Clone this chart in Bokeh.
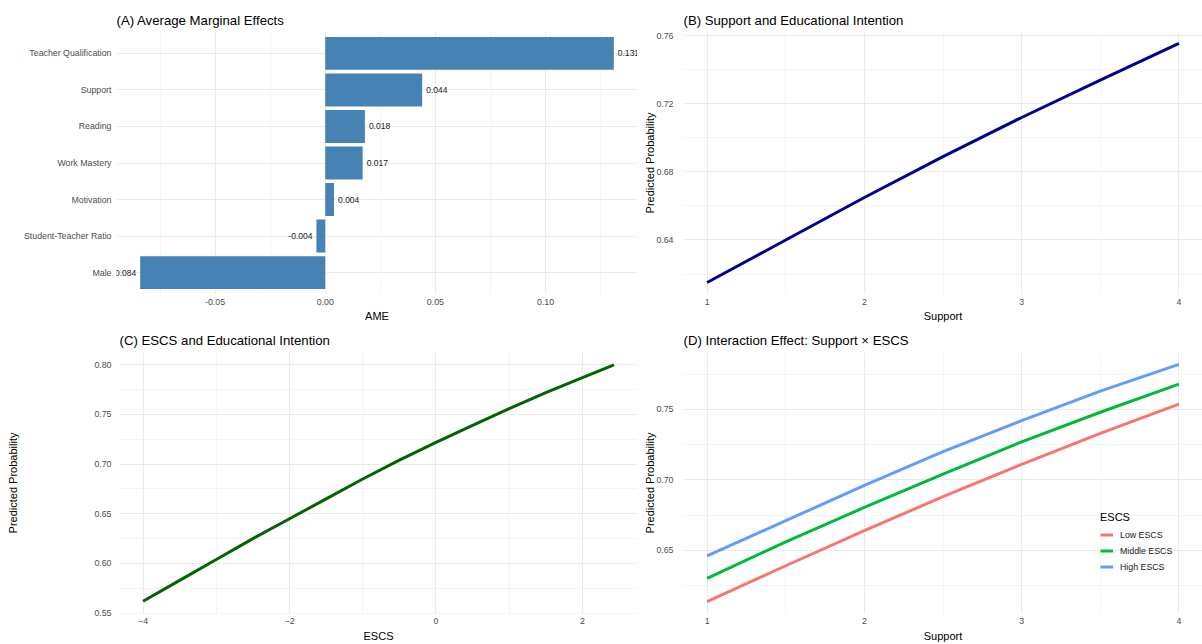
from bokeh.plotting import figure
from bokeh.layouts import column, row
from bokeh.models import (Range1d, FactorRange, FixedTicker, NumeralTickFormatter,
                          ColumnDataSource, Legend, LegendItem)
from bokeh.embed import file_html
from bokeh.resources import INLINE
from bokeh.core.properties import value

FONT = "Liberation Sans"

# ---------------- data ----------------
ame_vars = ["Teacher Qualification", "Support", "Reading", "Work Mastery",
            "Motivation", "Student-Teacher Ratio", "Male"]
ame_vals = [0.131, 0.044, 0.018, 0.017, 0.004, -0.004, -0.084]

support_x = [1.0, 1.5, 2.0, 2.5, 3.0, 3.5, 4.0]
support_prob = [0.615, 0.640, 0.665, 0.689, 0.712, 0.734, 0.7555]

escs_x = [-4.0, -3.5, -3.0, -2.5, -2.0, -1.5, -1.0, -0.5, 0.0, 0.5, 1.0, 1.5, 2.0, 2.43]
escs_prob = [0.562, 0.583, 0.604, 0.625, 0.645, 0.665, 0.685, 0.704, 0.722,
             0.739, 0.756, 0.772, 0.787, 0.800]

inter_x = [1.0, 1.5, 2.0, 2.5, 3.0, 3.5, 4.0]
low_escs = [0.6135, 0.639, 0.664, 0.688, 0.711, 0.733, 0.7537]
mid_escs = [0.630, 0.656, 0.6804, 0.704, 0.727, 0.748, 0.768]
high_escs = [0.646, 0.671, 0.696, 0.720, 0.742, 0.763, 0.782]
group_labels = ["Low ESCS", "Middle ESCS", "High ESCS"]
group_colors = ["#F8766D", "#00BA38", "#619CFF"]

GRID = "#EBEBEB"


def style(p, title, xlabel, ylabel, xls=4, xas=2, yls=10, yas=-3, tstand=8):
    p.outline_line_color = None
    p.background_fill_color = "white"
    p.border_fill_color = "white"
    p.title.text = title
    p.title.text_font = FONT
    p.title.text_font_size = "13.2px"
    p.title.text_font_style = "normal"
    p.title.text_color = "#000000"
    p.title.align = "left"
    p.title.offset = 0
    p.title.standoff = tstand
    for ax in (p.xaxis[0], p.yaxis[0]):
        ax.axis_line_color = None
        ax.major_tick_line_color = None
        ax.minor_tick_line_color = None
        ax.major_tick_out = 0
        ax.major_tick_in = 0
        ax.minor_tick_out = 0
        ax.minor_tick_in = 0
        ax.major_label_text_font = FONT
        ax.major_label_text_font_size = "8.8px"
        ax.major_label_text_color = "#4D4D4D"
        ax.axis_label_text_font = FONT
        ax.axis_label_text_font_size = "11px"
        ax.axis_label_text_font_style = "normal"
        ax.axis_label_text_color = "#000000"
    p.xaxis[0].axis_label = xlabel
    p.yaxis[0].axis_label = ylabel if ylabel else None
    p.xaxis[0].major_label_standoff = xls
    p.xaxis[0].axis_label_standoff = xas
    p.yaxis[0].major_label_standoff = yls
    p.yaxis[0].axis_label_standoff = yas
    for g in (p.xgrid[0], p.ygrid[0]):
        g.grid_line_color = GRID
        g.grid_line_width = 1
        g.minor_grid_line_color = GRID
        g.minor_grid_line_width = 0.5


ROW1_H, ROW2_H = 324, 320
LEFT_W, RIGHT_W = 637, 565

# ---------------- (A) bars ----------------
cats_bottom_up = list(reversed(ame_vars))
pa = figure(width=LEFT_W, height=ROW1_H, output_backend="svg", toolbar_location=None,
            x_range=Range1d(-0.09475, 0.14175),
            y_range=FactorRange(factors=cats_bottom_up, range_padding=0.1,
                                range_padding_units="absolute"),
            min_border_left=116, min_border_right=0, min_border_top=31,
            min_border_bottom=29)
src_a = ColumnDataSource(dict(var=ame_vars, val=ame_vals))
pa.hbar(y="var", left=0, right="val", height=0.9, source=src_a,
        fill_color="#4682B4", line_color=None)
pos = [i for i, v in enumerate(ame_vals) if v >= 0]
neg = [i for i, v in enumerate(ame_vals) if v < 0]
src_pos = ColumnDataSource(dict(var=[ame_vars[i] for i in pos], val=[ame_vals[i] for i in pos],
                                lbl=["%.3f" % ame_vals[i] for i in pos]))
src_neg = ColumnDataSource(dict(var=[ame_vars[i] for i in neg], val=[ame_vals[i] for i in neg],
                                lbl=["%.3f" % ame_vals[i] for i in neg]))
pa.text(x="val", y="var", text="lbl", source=src_pos, x_offset=4,
        text_align="left", text_baseline="middle", text_font=value(FONT),
        text_font_size="8.5px", text_color="#1a1a1a")
pa.text(x="val", y="var", text="lbl", source=src_neg, x_offset=-4,
        text_align="right", text_baseline="middle", text_font=value(FONT),
        text_font_size="8.5px", text_color="#1a1a1a")
style(pa, "(A) Average Marginal Effects", "AME", "", yls=5)
pa.xaxis[0].ticker = FixedTicker(ticks=[-0.05, 0.0, 0.05, 0.10],
                                 minor_ticks=[-0.075, -0.025, 0.025, 0.075, 0.125])
pa.xaxis[0].formatter = NumeralTickFormatter(format="0.00")

# ---------------- (B) support ----------------
pb = figure(width=RIGHT_W, height=ROW1_H, output_backend="svg", toolbar_location=None,
            x_range=Range1d(0.85, 4.15), y_range=Range1d(0.60797, 0.76253),
            min_border_left=46, min_border_right=0, min_border_top=31,
            min_border_bottom=29)
pb.line(support_x, support_prob, line_width=3, line_color="#00008B")
style(pb, "(B) Support and Educational Intention", "Support", "Predicted Probability")
pb.xaxis[0].ticker = FixedTicker(ticks=[1, 2, 3, 4], minor_ticks=[1.5, 2.5, 3.5])
pb.yaxis[0].ticker = FixedTicker(ticks=[0.64, 0.68, 0.72, 0.76],
                                 minor_ticks=[0.62, 0.66, 0.70, 0.74])
pb.yaxis[0].formatter = NumeralTickFormatter(format="0.00")

# ---------------- (C) ESCS ----------------
pc = figure(width=LEFT_W, height=ROW2_H, output_backend="svg", toolbar_location=None,
            x_range=Range1d(-4.3215, 2.7515), y_range=Range1d(0.5496, 0.8124),
            min_border_left=119, min_border_right=0, min_border_top=28,
            min_border_bottom=29)
pc.line(escs_x, escs_prob, line_width=3, line_color="#006400")
style(pc, "(C) ESCS and Educational Intention", "ESCS", "Predicted Probability",
      xls=4, xas=3, yls=8, yas=72, tstand=9)
pc.xaxis[0].ticker = FixedTicker(ticks=[-4, -2, 0, 2], minor_ticks=[-3, -1, 1])
pc.yaxis[0].ticker = FixedTicker(ticks=[0.55, 0.60, 0.65, 0.70, 0.75, 0.80],
                                 minor_ticks=[0.575, 0.625, 0.675, 0.725, 0.775])
pc.yaxis[0].formatter = NumeralTickFormatter(format="0.00")

# ---------------- (D) interaction ----------------
pd_ = figure(width=RIGHT_W, height=ROW2_H, output_backend="svg", toolbar_location=None,
             x_range=Range1d(0.85, 4.15), y_range=Range1d(0.6051, 0.7904),
             min_border_left=46, min_border_right=0, min_border_top=28,
             min_border_bottom=29)
series = [low_escs, mid_escs, high_escs]
items = []
for lab, col, ys in zip(group_labels, group_colors, series):
    r = pd_.line(inter_x, ys, line_width=3, line_color=col)
    items.append(LegendItem(label=lab, renderers=[r]))
style(pd_, "(D) Interaction Effect: Support \u00d7 ESCS", "Support", "Predicted Probability",
      xls=4, xas=3, tstand=9)
pd_.xaxis[0].ticker = FixedTicker(ticks=[1, 2, 3, 4], minor_ticks=[1.5, 2.5, 3.5])
pd_.yaxis[0].ticker = FixedTicker(ticks=[0.65, 0.70, 0.75],
                                  minor_ticks=[0.625, 0.675, 0.725, 0.775])
pd_.yaxis[0].formatter = NumeralTickFormatter(format="0.00")
leg = Legend(items=items, location=(413, 35), title="ESCS",
             title_text_font=FONT, title_text_font_size="11px",
             title_text_font_style="normal", title_text_color="#000000",
             title_standoff=4,
             label_text_font=FONT, label_text_font_size="8.8px",
             label_text_color="#1a1a1a",
             glyph_width=13, glyph_height=15, label_height=15,
             label_standoff=7, spacing=1, padding=4, margin=0,
             background_fill_alpha=0, border_line_alpha=0)
pd_.add_layout(leg, "center")

layout = column(row(pa, pb, spacing=0), row(pc, pd_, spacing=0), spacing=0)
open("out.html", "w").write(file_html(layout, INLINE))
